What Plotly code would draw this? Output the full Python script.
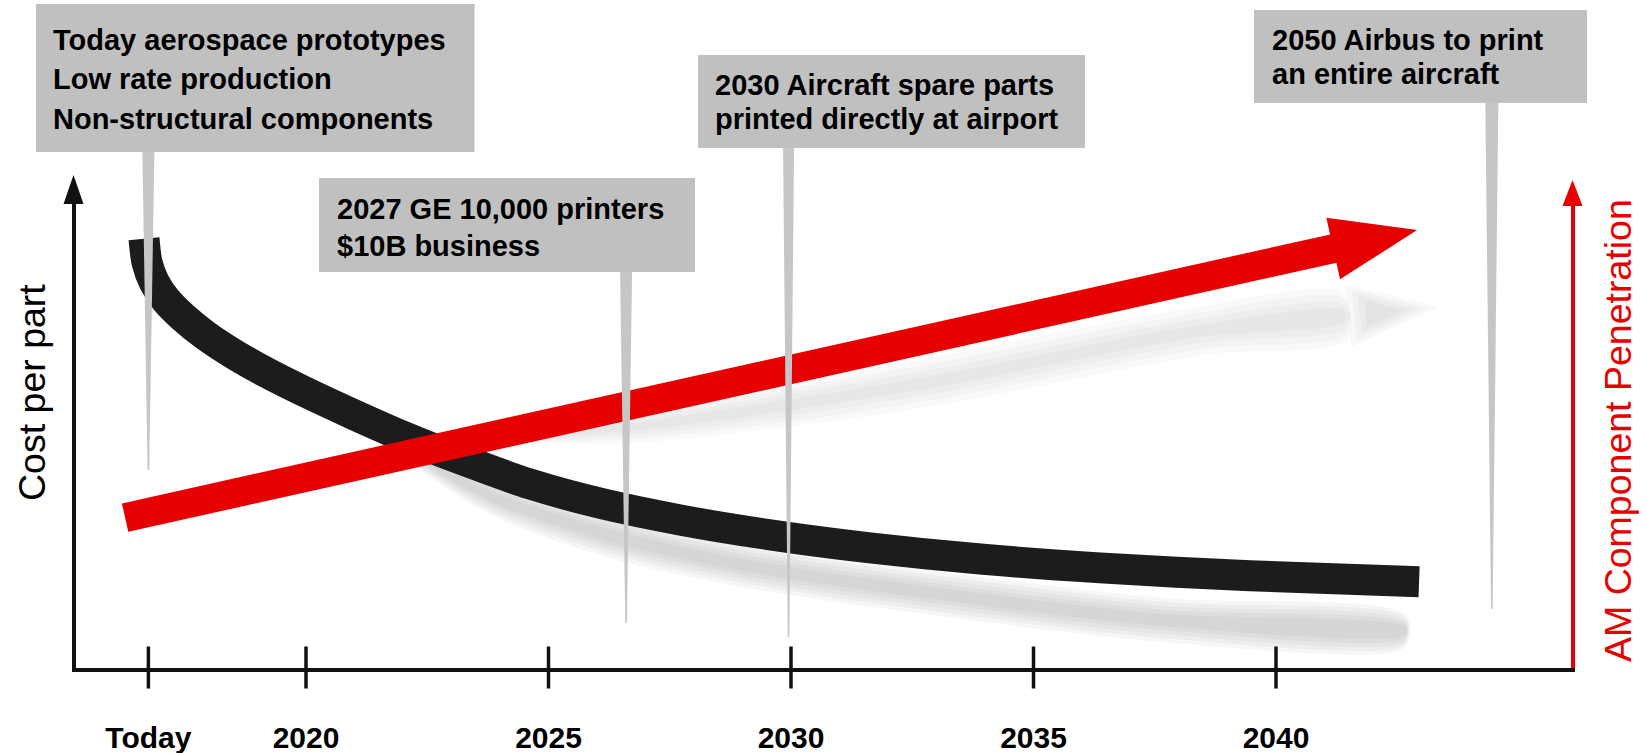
import math
import plotly.graph_objects as go

W, H = 1646, 753
FONT = "Liberation Sans, Arial, Helvetica, sans-serif"
RED = "#e60000"
INK = "#111111"
BOX_GREY = "#c0c0c0"

# ---------------- data ----------------
tick_years = [2016.75, 2020, 2025, 2030, 2035, 2040]
tick_labels = ["Today", "2020", "2025", "2030", "2035", "2040"]

# cost per part (relative index, 0 = x axis)
cost_years = [2016.66, 2016.72, 2016.87, 2017.11, 2017.46, 2017.92, 2018.47, 2019.16,
              2019.98, 2020.95, 2022.04, 2023.28, 2024.62, 2026.06, 2027.71, 2029.57,
              2031.63, 2033.90, 2036.37, 2039.46, 2042.95]
cost_values = [92.1, 87.1, 82.8, 79.0, 75.3, 71.4, 67.6, 63.5,
               59.2, 54.5, 49.5, 44.4, 39.4, 35.3, 31.7, 28.5,
               25.7, 23.3, 21.4, 19.7, 18.4]

# AM component penetration (relative index): start of the arrow and its tip
penetration_years = [2016.27, 2042.91]
penetration_values = [32.2, 94.0]

# soft drop shadows cast below both curves
cost_shadow_years = [2020.50, 2022.35, 2024.00, 2026.62, 2029.36, 2033.07, 2037.67, 2042.66]
cost_shadow_values = [55.3, 45.0, 36.0, 27.4, 21.4, 15.8, 10.2, 7.8]
penetration_shadow_years = [2023.59, 2027.09, 2032.87, 2038.43, 2041.42, 2043.07]
penetration_shadow_values = [48.4, 52.1, 61.3, 72.3, 75.5, 77.2]

# milestone call-outs
milestone_years = [2016.75, 2026.6, 2029.95, 2044.45]
milestone_lines = [
    ["Today aerospace prototypes", "Low rate production", "Non-structural components"],
    ["2027 GE 10,000 printers", "$10B business"],
    ["2030 Aircraft spare parts", "printed directly at airport"],
    ["2050 Airbus to print", "an entire aircraft"],
]

# ---------------- geometry (pixels) ----------------
PLOT_L, PLOT_R = 75.5, 1570.5
PLOT_B, PLOT_T = 667.5, 202.0
X_RANGE = [2015.2474, 2046.0722]
Y_RANGE = [0.0, 100.0]


def px_x(year):
    return PLOT_L + (year - X_RANGE[0]) * (PLOT_R - PLOT_L) / (X_RANGE[1] - X_RANGE[0])


def px_y(v):
    return PLOT_B - (v - Y_RANGE[0]) * (PLOT_B - PLOT_T) / (Y_RANGE[1] - Y_RANGE[0])


def data_x(p):
    return X_RANGE[0] + (p - PLOT_L) * (X_RANGE[1] - X_RANGE[0]) / (PLOT_R - PLOT_L)


def data_y(p):
    return Y_RANGE[0] + (PLOT_B - p) * (Y_RANGE[1] - Y_RANGE[0]) / (PLOT_B - PLOT_T)


def paper_x(p):
    return p / W


def paper_y(p):
    return 1 - p / H


def head_pixels(xs, ys, length, half):
    """Triangle corners (pixels) whose tip sits on the last point of a line."""
    x0, y0 = px_x(xs[-2]), px_y(ys[-2])
    x1, y1 = px_x(xs[-1]), px_y(ys[-1])
    d = math.hypot(x1 - x0, y1 - y0)
    ux, uy = (x1 - x0) / d, (y1 - y0) / d
    nx, ny = -uy, ux
    bx, by = x1 - length * ux, y1 - length * uy
    pts = [(bx + half * nx, by + half * ny), (x1, y1), (bx - half * nx, by - half * ny)]
    return pts, (bx + 1.5 * ux, by + 1.5 * uy)


def to_data(pts, close=True):
    pts = list(pts) + ([pts[0]] if close else [])
    return [data_x(p[0]) for p in pts], [data_y(p[1]) for p in pts]


fig = go.Figure()


def soft_band(xs, ys, yaxis, half_widths, alpha, taper):
    """Blurred grey band: stacked translucent ribbons that widen from a point."""
    pts = [(px_x(x), px_y(y)) for x, y in zip(xs, ys)]
    n = len(pts)
    normals = []
    for i in range(n):
        a = pts[max(i - 1, 0)]
        b = pts[min(i + 1, n - 1)]
        dx, dy = b[0] - a[0], b[1] - a[1]
        d = math.hypot(dx, dy)
        normals.append((-dy / d, dx / d))
    for h in half_widths:
        upper = [(p[0] + nv[0] * h * t, p[1] + nv[1] * h * t) for p, nv, t in zip(pts, normals, taper)]
        lower = [(p[0] - nv[0] * h * t, p[1] - nv[1] * h * t) for p, nv, t in zip(pts, normals, taper)]
        sx, sy = to_data(upper + lower[::-1])
        fig.add_trace(go.Scatter(
            x=sx, y=sy, yaxis=yaxis, mode="lines", fill="toself",
            fillcolor=f"rgba(95,95,95,{alpha})",
            line=dict(width=0, shape="spline", smoothing=0.8),
            hoverinfo="skip", showlegend=False))


# shadows (they emerge from underneath their curve and drift downwards)
soft_band(cost_shadow_years, cost_shadow_values, "y", [22, 18, 14, 10, 6], 0.058,
          [0.0, 0.45, 0.8, 1, 1, 1, 1, 0.75])
soft_band(penetration_shadow_years[:-1], penetration_shadow_values[:-1], "y2",
          [24, 18, 12, 6], 0.035, [0.0, 0.7, 1, 1, 1])
shadow_head, _ = head_pixels(penetration_shadow_years, penetration_shadow_values, 70, 24)
cx = sum(p[0] for p in shadow_head) / 3
cy = sum(p[1] for p in shadow_head) / 3
for scale in (1.3, 1.05, 0.8, 0.55):
    sx, sy = to_data([(cx + (p[0] - cx) * scale, cy + (p[1] - cy) * scale) for p in shadow_head])
    fig.add_trace(go.Scatter(x=sx, y=sy, yaxis="y2", mode="lines", fill="toself",
                             fillcolor="rgba(95,95,95,0.045)", line=dict(width=0),
                             hoverinfo="skip", showlegend=False))

# cost per part curve
fig.add_trace(go.Scatter(
    x=cost_years, y=cost_values, mode="lines",
    line=dict(color="#1c1c1c", width=31, shape="spline", smoothing=0.7),
    hoverinfo="skip", showlegend=False))

# penetration arrow
head, base = head_pixels(penetration_years, penetration_values, 86, 31.5)
hx, hy = to_data(head)
fig.add_trace(go.Scatter(
    x=[penetration_years[0], data_x(base[0])], y=[penetration_values[0], data_y(base[1])],
    yaxis="y2", mode="lines", line=dict(color=RED, width=29),
    hoverinfo="skip", showlegend=False))
fig.add_trace(go.Scatter(
    x=hx, y=hy, yaxis="y2", mode="lines", fill="toself", fillcolor=RED,
    line=dict(width=0), hoverinfo="skip", showlegend=False))

# tick marks crossing the time axis
fig.add_trace(go.Scatter(
    x=tick_years, y=[Y_RANGE[0]] * len(tick_years), mode="markers", cliponaxis=False,
    marker=dict(symbol="line-ns", size=30, line=dict(color=INK, width=3.5)),
    hoverinfo="skip", showlegend=False))

# ---------------- call-out boxes ----------------
box_px = [(36, 4, 474.5, 152), (319, 178, 695, 272), (698, 55, 1085, 148), (1254, 10, 1587, 103)]
pointer_bottom = [470, 623, 637, 609]
pointer_width = [12, 12, 11, 13]
text_left = [51, 335, 713, 1270]
line_centres = [[39.7, 79.2, 119.5], [209.0, 245.7], [84.7, 118.8], [40.3, 74.0]]

shapes = []
for yr, (bx0, by0, bx1, by1), bot, w in zip(milestone_years, box_px, pointer_bottom, pointer_width):
    xc = px_x(yr)
    path = (f"M{paper_x(xc - w / 2)},{paper_y(by1)} L{paper_x(xc + w / 2)},{paper_y(by1)} "
            f"L{paper_x(xc + 0.8)},{paper_y(bot)} L{paper_x(xc - 0.8)},{paper_y(bot)} Z")
    shapes.append(dict(type="path", path=path, xref="paper", yref="paper",
                       fillcolor="#c6c6c6", line=dict(width=0), layer="above"))
for (bx0, by0, bx1, by1) in box_px:
    shapes.append(dict(type="rect", xref="paper", yref="paper",
                       x0=paper_x(bx0), x1=paper_x(bx1), y0=paper_y(by1), y1=paper_y(by0),
                       fillcolor=BOX_GREY, line=dict(width=0), layer="above"))


def axis_head(xc, tip, base, half, colour):
    path = (f"M{paper_x(xc - half)},{paper_y(base)} L{paper_x(xc)},{paper_y(tip)} "
            f"L{paper_x(xc + half)},{paper_y(base)} Z")
    return dict(type="path", path=path, xref="paper", yref="paper",
                fillcolor=colour, line=dict(width=0), layer="above")


shapes.append(axis_head(PLOT_L - 2, 175, 204, 10, INK))
shapes.append(axis_head(PLOT_R + 2, 180, 206, 10, RED))

annotations = []
for lines, left, centres in zip(milestone_lines, text_left, line_centres):
    for txt, cy_ in zip(lines, centres):
        annotations.append(dict(
            text=txt, x=paper_x(left), y=paper_y(cy_), xref="paper", yref="paper",
            xanchor="left", yanchor="middle", showarrow=False, align="left",
            font=dict(family=FONT, size=29, color="black", weight="bold")))

annotations.append(dict(
    text="Cost per part", x=paper_x(31.5), y=paper_y(392.5), xref="paper", yref="paper",
    textangle=-90, xanchor="center", yanchor="middle", showarrow=False,
    font=dict(family=FONT, size=37.5, color="black")))
annotations.append(dict(
    text="AM Component Penetration", x=paper_x(1618), y=paper_y(431), xref="paper", yref="paper",
    textangle=-90, xanchor="center", yanchor="middle", showarrow=False,
    font=dict(family=FONT, size=37.5, color=RED)))

fig.update_layout(
    width=W, height=H,
    margin=dict(l=0, r=0, t=0, b=0, pad=0),
    paper_bgcolor="white", plot_bgcolor="rgba(0,0,0,0)",
    showlegend=False, hovermode=False,
    xaxis=dict(domain=[PLOT_L / W, PLOT_R / W], range=X_RANGE, anchor="y",
               showline=True, linecolor=INK, linewidth=4, showgrid=False, zeroline=False,
               tickmode="array", tickvals=tick_years, ticktext=tick_labels,
               ticks="outside", ticklen=40, tickcolor="rgba(0,0,0,0)",
               tickfont=dict(family=FONT, size=30, color="black", weight="bold"),
               automargin=False, fixedrange=True),
    yaxis=dict(domain=[1 - PLOT_B / H, 1 - PLOT_T / H], range=Y_RANGE, anchor="x",
               showline=True, linecolor=INK, linewidth=4, showgrid=False, zeroline=False,
               showticklabels=False, ticks="", automargin=False, fixedrange=True),
    yaxis2=dict(overlaying="y", side="right", range=Y_RANGE, anchor="x",
                showline=True, linecolor=RED, linewidth=4, showgrid=False, zeroline=False,
                showticklabels=False, ticks="", automargin=False, fixedrange=True),
    shapes=shapes,
    annotations=annotations,
)

fig.write_html("out.html", config={"displayModeBar": False, "staticPlot": True})
